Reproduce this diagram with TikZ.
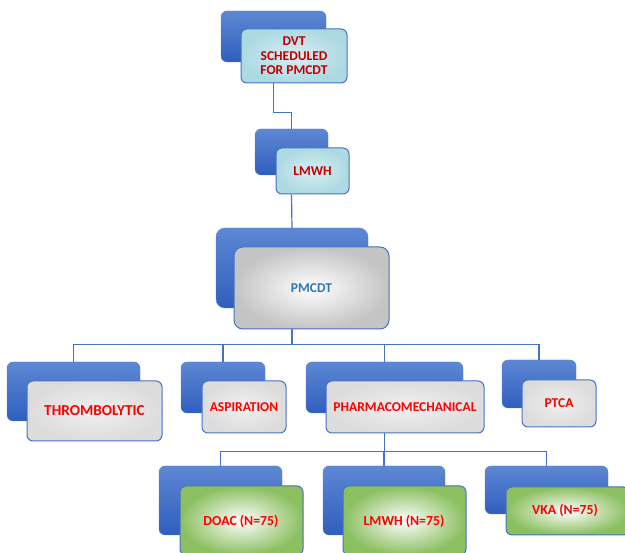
\documentclass[tikz,border=0pt]{standalone}
\usepackage{fontspec}
\setmainfont{Carlito}
\usetikzlibrary{calc}
\definecolor{linkblue}{HTML}{4472C4}
\definecolor{backtop}{HTML}{5E88D4}
\definecolor{backbot}{HTML}{2F5EBE}
\definecolor{darkred}{HTML}{C00000}
\definecolor{brightred}{HTML}{FF0000}
\definecolor{pmblue}{HTML}{2E75B6}
\definecolor{aquain}{HTML}{D6EFF3}
\definecolor{aquaout}{HTML}{ADD9E2}
\definecolor{greyout}{HTML}{C4C4C4}
\definecolor{granin}{HTML}{F0F0F0}
\definecolor{granout}{HTML}{DCDCDC}
\definecolor{greenout}{HTML}{8BBF60}
\tikzset{
  backbox/.style={rectangle, rounded corners=6pt, inner sep=0pt, top color=backtop, bottom color=backbot, draw=backbot!80!white, line width=0.4pt},
  frontbox/.style={rectangle, rounded corners=6pt, inner sep=0pt, draw=linkblue, line width=1pt, font=\bfseries\fontsize{13.5}{14.5}\selectfont, align=center},
  aquabox/.style={frontbox, inner color=aquain, outer color=aquaout, text=darkred},
  greybox/.style={frontbox, rounded corners=9pt, inner color=white, outer color=greyout, text=pmblue},
  granitebox/.style={frontbox, inner color=granin, outer color=granout, text=brightred},
  greenbox/.style={frontbox, inner color=white, outer color=greenout, text=brightred},
  link/.style={draw=linkblue, line width=1.2pt}
}
\begin{document}
\begin{tikzpicture}[x=1pt,y=-1pt]
\useasboundingbox (0,0) rectangle (625,553);
\clip (0,0) rectangle (625,553);
% level 1
\node[backbox, minimum width=105, minimum height=51] (dvtb) at (273.5,36.5) {};
\node[aquabox, minimum width=106, minimum height=54] (dvtf) at (294,56) {DVT\\SCHEDULED\\FOR PMCDT};
% level 2
\node[backbox, minimum width=73, minimum height=46] (lmb) at (291.5,152) {};
\node[aquabox, minimum width=73, minimum height=46] (lmf) at (312.5,171) {LMWH};
% level 3
\node[backbox, rounded corners=9pt, minimum width=152, minimum height=80] (pmb) at (292,268) {};
\node[greybox, minimum width=155, minimum height=82] (pmf) at (311.5,288) {PMCDT};
% level 4
\node[backbox, minimum width=133, minimum height=59] (thb) at (73.5,391.5) {};
\node[granitebox, minimum width=135, minimum height=60, font=\bfseries\fontsize{15.2}{16}\selectfont] (thf) at (94.5,411) {THROMBOLYTIC};
\node[backbox, minimum width=84, minimum height=51] (asb) at (223,387.5) {};
\node[granitebox, minimum width=84, minimum height=52] (asf) at (244,407) {ASPIRATION};
\node[backbox, minimum width=157, minimum height=51] (phb) at (384.5,387.5) {};
\node[granitebox, minimum width=158, minimum height=52] (phf) at (405,407) {PHARMACOMECHANICAL};
\node[backbox, minimum width=74, minimum height=48] (ptb) at (539,384) {};
\node[granitebox, minimum width=74, minimum height=47] (ptf) at (559,403.5) {PTCA};
% level 5
\node[backbox, minimum width=123, minimum height=69] (dob) at (220.5,500.5) {};
\node[greenbox, minimum width=123, minimum height=69] (dof) at (241.5,520.5) {};
\node[font=\bfseries\fontsize{13.8}{14.5}\selectfont, text=brightred] (dot) at (241,521) {DOAC (N=75)};
\node[backbox, minimum width=122, minimum height=69] (l2b) at (384,500.5) {};
\node[greenbox, minimum width=123, minimum height=69] (l2f) at (404.5,520.5) {};
\node[font=\bfseries\fontsize{13.8}{14.5}\selectfont, text=brightred] (l2t) at (404,521) {LMWH (N=75)};
\node[backbox, minimum width=123, minimum height=48] (vkb) at (546.5,490) {};
\node[greenbox, minimum width=123, minimum height=48] (vkf) at (567.5,511) {};
\node[font=\bfseries\fontsize{13.8}{14.5}\selectfont, text=brightred] (vkt) at (565,510) {VKA (N=75)};
% connectors
\draw[link] (dvtb.center |- dvtf.south) -- ++(0,29) -| (lmb.north);
\draw[link] (lmb.center |- lmf.south) -- (pmb.north);
\draw[link] (pmb.center |- pmf.south) -- ++(0,15) coordinate (busa);
\draw[link] (busa) -| (thb.north);
\draw[link] (busa) -| (asb.north);
\draw[link] (busa) -| (phb.north);
\draw[link] (busa) -| (ptb.north);
\draw[link] (phb.center |- phf.south) -- ++(0,18) coordinate (busb);
\draw[link] (busb) -| (dob.north);
\draw[link] (busb) -| (l2b.north);
\draw[link] (busb) -| (vkb.north);
\end{tikzpicture}
\end{document}
